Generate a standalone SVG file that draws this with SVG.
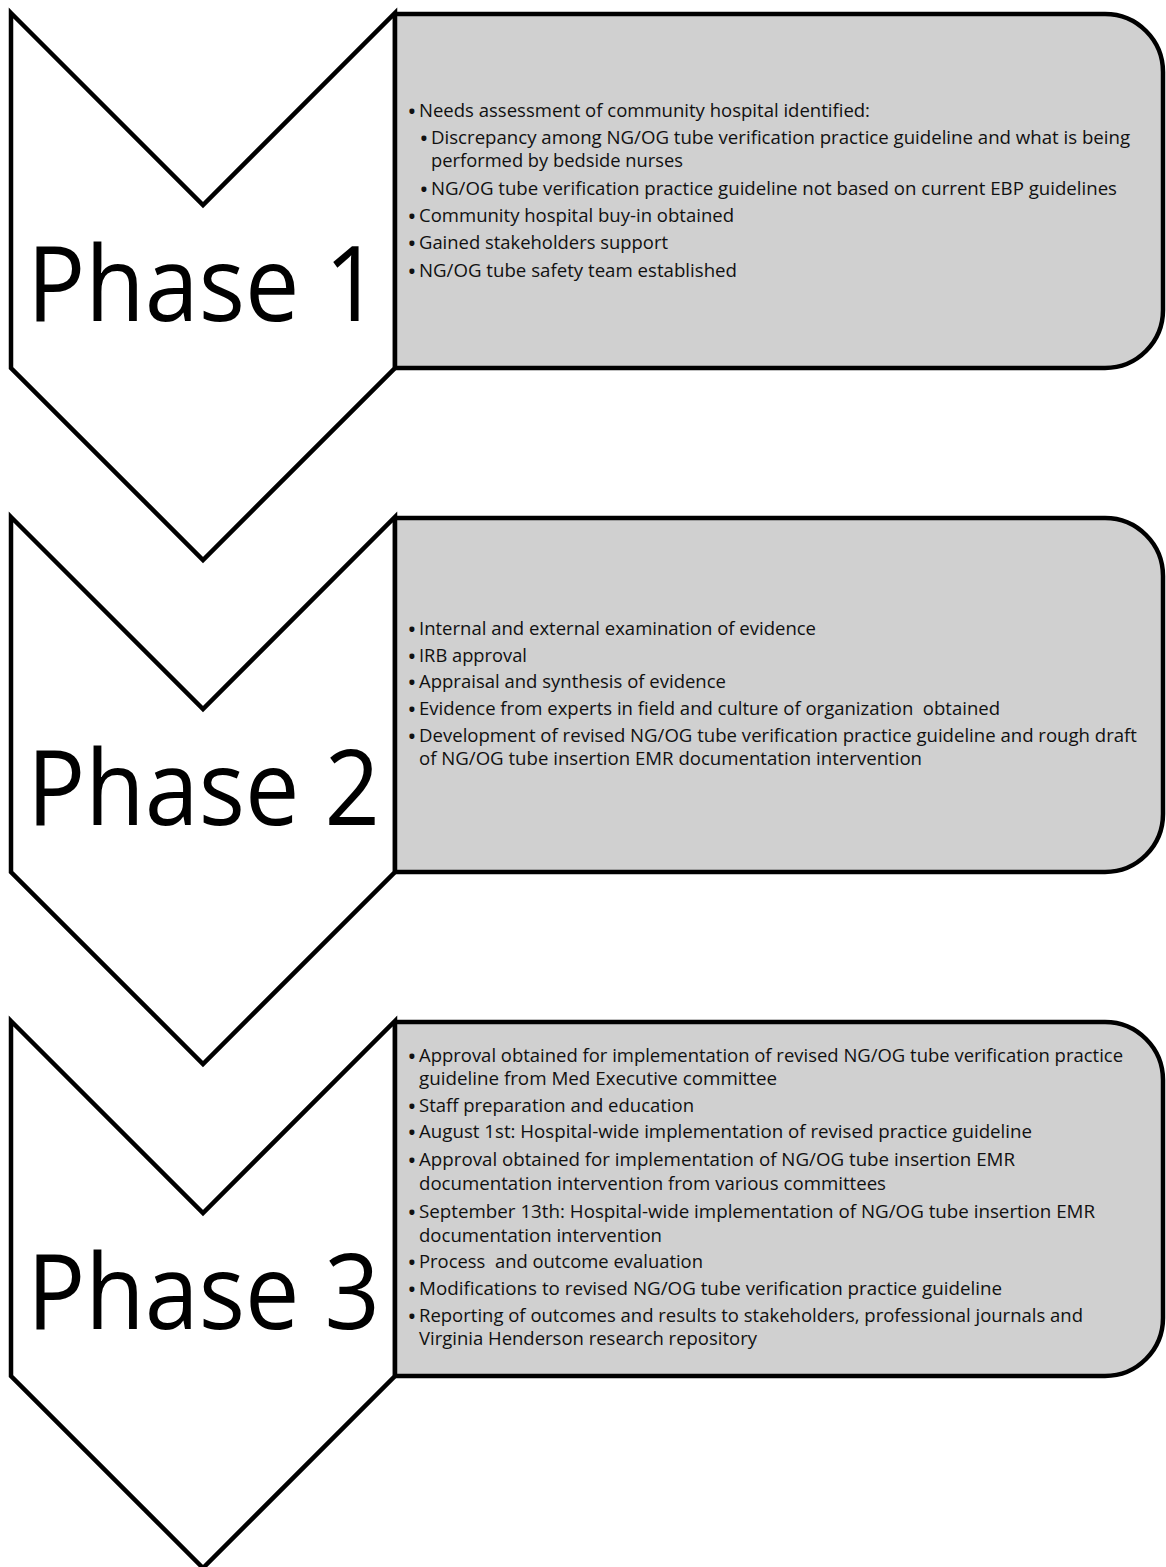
<svg xmlns="http://www.w3.org/2000/svg" xmlns:xlink="http://www.w3.org/1999/xlink" width="1166" height="1567" viewBox="0 0 1166 1567">
<style>
.chev{fill:#ffffff;stroke:#000000;stroke-width:4.5;stroke-linejoin:miter;stroke-miterlimit:10}
.box{fill:#d0d0d0;stroke:#000000;stroke-width:4.5;stroke-linejoin:round}
.phase{font-family:"Open Sans","Noto Sans",sans-serif;font-size:104px;fill:#000000}
.t{font-family:"Open Sans","Noto Sans",sans-serif;font-size:18px;fill:#111111;white-space:pre}
.b{font-family:"Open Sans","Noto Sans",sans-serif;font-size:18px;font-weight:bold;fill:#111111;text-anchor:middle}
</style>
<defs>
<path id="chevShape" d="M11,13 L203,205 L395,13 L395,368 L203,560 L11,368 Z"/>
<path id="boxShape" d="M395,14 H1105 A58,58 0 0 1 1163,72 V310 A58,58 0 0 1 1105,368 H395 Z"/>
</defs>

<g id="phase1">
<use xlink:href="#chevShape" href="#chevShape" class="chev"/>
<text class="phase" x="27" y="321" textLength="353" lengthAdjust="spacingAndGlyphs">Phase 1</text>
</g>
<g id="phase1-box">
<use xlink:href="#boxShape" href="#boxShape" class="box"/>
<text class="b" x="412" y="118">•</text>
<text class="t" x="419" y="117" textLength="451" lengthAdjust="spacingAndGlyphs">Needs assessment of community hospital identified:</text>
<text class="b" x="424" y="145">•</text>
<text class="t" x="431" y="144" textLength="699" lengthAdjust="spacingAndGlyphs">Discrepancy among NG/OG tube verification practice guideline and what is being</text>
<text class="t" x="431" y="167" textLength="252" lengthAdjust="spacingAndGlyphs">performed by bedside nurses</text>
<text class="b" x="424" y="196">•</text>
<text class="t" x="431" y="195" textLength="686" lengthAdjust="spacingAndGlyphs">NG/OG tube verification practice guideline not based on current EBP guidelines</text>
<text class="b" x="412" y="223">•</text>
<text class="t" x="419" y="222" textLength="315" lengthAdjust="spacingAndGlyphs">Community hospital buy-in obtained</text>
<text class="b" x="412" y="250">•</text>
<text class="t" x="419" y="249" textLength="249" lengthAdjust="spacingAndGlyphs">Gained stakeholders support</text>
<text class="b" x="412" y="278">•</text>
<text class="t" x="419" y="277" textLength="318" lengthAdjust="spacingAndGlyphs">NG/OG tube safety team established</text>
</g>

<g id="phase2">
<use xlink:href="#chevShape" href="#chevShape" class="chev" y="504"/>
<text class="phase" x="27" y="825" textLength="353" lengthAdjust="spacingAndGlyphs">Phase 2</text>
</g>
<g id="phase2-box">
<use xlink:href="#boxShape" href="#boxShape" class="box" y="504"/>
<text class="b" x="412" y="636">•</text>
<text class="t" x="419" y="635" textLength="397" lengthAdjust="spacingAndGlyphs">Internal and external examination of evidence</text>
<text class="b" x="412" y="663">•</text>
<text class="t" x="419" y="662" textLength="108" lengthAdjust="spacingAndGlyphs">IRB approval</text>
<text class="b" x="412" y="689">•</text>
<text class="t" x="419" y="688" textLength="307" lengthAdjust="spacingAndGlyphs">Appraisal and synthesis of evidence</text>
<text class="b" x="412" y="716">•</text>
<text class="t" x="419" y="715" textLength="581" lengthAdjust="spacingAndGlyphs">Evidence from experts in field and culture of organization  obtained</text>
<text class="b" x="412" y="743">•</text>
<text class="t" x="419" y="742" textLength="718" lengthAdjust="spacingAndGlyphs">Development of revised NG/OG tube verification practice guideline and rough draft</text>
<text class="t" x="419" y="765" textLength="503" lengthAdjust="spacingAndGlyphs">of NG/OG tube insertion EMR documentation intervention</text>
</g>

<g id="phase3">
<use xlink:href="#chevShape" href="#chevShape" class="chev" y="1008"/>
<text class="phase" x="27" y="1329" textLength="353" lengthAdjust="spacingAndGlyphs">Phase 3</text>
</g>
<g id="phase3-box">
<use xlink:href="#boxShape" href="#boxShape" class="box" y="1008"/>
<text class="b" x="412" y="1063">•</text>
<text class="t" x="419" y="1062" textLength="704" lengthAdjust="spacingAndGlyphs">Approval obtained for implementation of revised NG/OG tube verification practice</text>
<text class="t" x="419" y="1085" textLength="358" lengthAdjust="spacingAndGlyphs">guideline from Med Executive committee</text>
<text class="b" x="412" y="1113">•</text>
<text class="t" x="419" y="1112" textLength="275" lengthAdjust="spacingAndGlyphs">Staff preparation and education</text>
<text class="b" x="412" y="1139">•</text>
<text class="t" x="419" y="1138" textLength="613" lengthAdjust="spacingAndGlyphs">August 1st: Hospital-wide implementation of revised practice guideline</text>
<text class="b" x="412" y="1167">•</text>
<text class="t" x="419" y="1166" textLength="596" lengthAdjust="spacingAndGlyphs">Approval obtained for implementation of NG/OG tube insertion EMR</text>
<text class="t" x="419" y="1190" textLength="467" lengthAdjust="spacingAndGlyphs">documentation intervention from various committees</text>
<text class="b" x="412" y="1219">•</text>
<text class="t" x="419" y="1218" textLength="676" lengthAdjust="spacingAndGlyphs">September 13th: Hospital-wide implementation of NG/OG tube insertion EMR</text>
<text class="t" x="419" y="1242" textLength="243" lengthAdjust="spacingAndGlyphs">documentation intervention</text>
<text class="b" x="412" y="1269">•</text>
<text class="t" x="419" y="1268" textLength="284" lengthAdjust="spacingAndGlyphs">Process  and outcome evaluation</text>
<text class="b" x="412" y="1296">•</text>
<text class="t" x="419" y="1295" textLength="583" lengthAdjust="spacingAndGlyphs">Modifications to revised NG/OG tube verification practice guideline</text>
<text class="b" x="412" y="1323">•</text>
<text class="t" x="419" y="1322" textLength="664" lengthAdjust="spacingAndGlyphs">Reporting of outcomes and results to stakeholders, professional journals and</text>
<text class="t" x="419" y="1345" textLength="338" lengthAdjust="spacingAndGlyphs">Virginia Henderson research repository</text>
</g>
</svg>
